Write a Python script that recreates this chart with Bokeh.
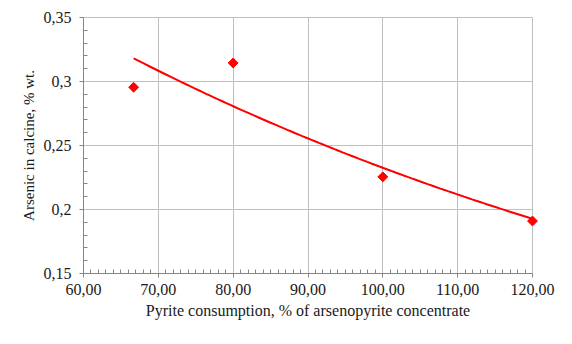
import numpy as np
from bokeh.plotting import figure
from bokeh.models import FixedTicker, ColumnDataSource
from bokeh.embed import file_html
from bokeh.resources import INLINE

# Data
pyrite = [66.7, 80.0, 100.0, 120.0]
arsenic = [0.2955, 0.3145, 0.2255, 0.1910]

x_ticks = [60, 70, 80, 90, 100, 110, 120]
x_tick_labels = ["60,00", "70,00", "80,00", "90,00", "100,00", "110,00", "120,00"]
y_ticks = [0.15, 0.2, 0.25, 0.3, 0.35]
y_tick_labels = ["0,15", "0,2", "0,25", "0,3", "0,35"]

x_title = "Pyrite consumption, % of arsenopyrite concentrate"
y_title = "Arsenic in calcine, % wt."

# Exponential trend line (least squares on log y), as spreadsheet trendline
b, ln_a = np.polyfit(np.array(pyrite), np.log(np.array(arsenic)), 1)
xs = np.linspace(min(pyrite), max(pyrite), 100)
ys = np.exp(ln_a) * np.exp(b * xs)

FONT = "Liberation Serif"
GRID = "#bfbfbf"

p = figure(width=556, height=328, output_backend="svg", toolbar_location=None,
           x_range=(60, 120), y_range=(0.15, 0.35),
           min_border_left=83, min_border_right=24, min_border_top=17, min_border_bottom=55)
p.background_fill_color = "white"
p.border_fill_color = "white"
p.outline_line_color = GRID
p.outline_line_width = 1

p.line(xs, ys, line_color="#ff0000", line_width=2)
src = ColumnDataSource(dict(x=pyrite, y=arsenic))
p.scatter("x", "y", source=src, marker="square", angle=np.pi / 4, size=7,
          fill_color="#ff0000", line_color="#ff0000", level="overlay")

x_minor = [v for v in range(60, 121) if v % 10 != 0]
y_minor = [round(0.15 + 0.01 * i, 2) for i in range(21) if i % 5 != 0]
p.xaxis.ticker = FixedTicker(ticks=x_ticks, minor_ticks=x_minor)
p.yaxis.ticker = FixedTicker(ticks=y_ticks, minor_ticks=y_minor)
p.xaxis.major_label_overrides = {t: l for t, l in zip(x_ticks, x_tick_labels)}
p.yaxis.major_label_overrides = {t: l for t, l in zip(y_ticks, y_tick_labels)}

for ax in (p.xaxis, p.yaxis):
    ax.axis_line_color = "#868686"
    ax.major_tick_line_color = "#868686"
    ax.minor_tick_line_color = "#868686"
    ax.major_tick_in = 0
    ax.major_tick_out = 4
    ax.minor_tick_in = 4
    ax.minor_tick_out = 0
    ax.major_label_text_font = FONT
    ax.major_label_text_font_size = "16px"
    ax.major_label_text_color = "#1a1a1a"
    ax.axis_label_text_font = FONT
    ax.axis_label_text_font_size = "16px"
    ax.axis_label_text_font_style = "normal"
    ax.axis_label_text_color = "#1a1a1a"

p.yaxis.axis_label_text_font_size = "15px"
p.xaxis.axis_label = x_title
p.yaxis.axis_label = y_title
p.xaxis.major_label_standoff = 6
p.yaxis.major_label_standoff = 8
p.xaxis.axis_label_standoff = 4
p.yaxis.axis_label_standoff = 4

p.xgrid.ticker = FixedTicker(ticks=x_ticks)
p.ygrid.ticker = FixedTicker(ticks=y_ticks)
p.grid.grid_line_color = GRID
p.grid.grid_line_width = 1

open("out.html", "w").write(file_html(p, INLINE))
